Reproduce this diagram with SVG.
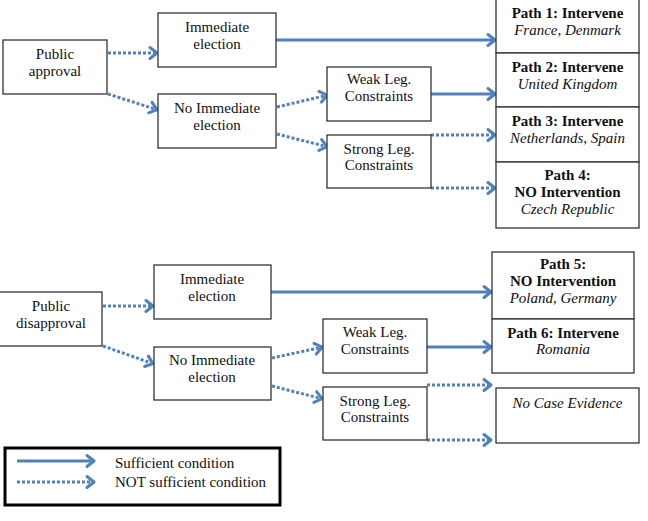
<svg xmlns="http://www.w3.org/2000/svg" width="648" height="521" viewBox="0 0 648 521" font-family="Liberation Serif, Times New Roman, DejaVu Serif, serif">
<style>
.box{fill:#fff;stroke:#333;stroke-width:1.3}
.t{font-size:15px;text-anchor:middle;fill:#111}
.b{font-weight:bold}
.i{font-style:italic}
.s{fill:none;stroke:#4F81BD;stroke-width:3;marker-end:url(#ah)}
.d{fill:none;stroke:#4F81BD;stroke-width:3;stroke-dasharray:3 2;marker-end:url(#ah)}
.lt{font-size:15px;fill:#111}
</style>
<defs>
<marker id="ah" markerUnits="userSpaceOnUse" markerWidth="16" markerHeight="16" refX="11" refY="8" orient="auto">
<path d="M3,2.5 L10,8 L3,13.5" fill="none" stroke="#4F81BD" stroke-width="3" stroke-linejoin="round" stroke-linecap="round"/>
</marker>
</defs>
<rect width="648" height="521" fill="#fff"/>

<g id="connectors">
<line class="d" x1="108" y1="53" x2="158" y2="53"/>
<line class="d" x1="108" y1="94" x2="158" y2="110"/>
<line class="s" x1="276" y1="40" x2="496" y2="40"/>
<line class="d" x1="277" y1="107" x2="328" y2="95"/>
<line class="d" x1="277" y1="134" x2="328" y2="147"/>
<line class="s" x1="431" y1="94" x2="496" y2="94"/>
<line class="d" x1="431" y1="135" x2="496" y2="135"/>
<line class="d" x1="431" y1="188" x2="496" y2="188"/>

<line class="d" x1="103" y1="306" x2="154" y2="306"/>
<line class="d" x1="103" y1="346" x2="154" y2="364"/>
<line class="s" x1="271" y1="292" x2="492" y2="292"/>
<line class="d" x1="272" y1="358" x2="323" y2="347"/>
<line class="d" x1="272" y1="386" x2="323" y2="399"/>
<line class="s" x1="427" y1="347" x2="492" y2="347"/>
<line class="d" x1="427" y1="385" x2="492" y2="385"/>
<line class="d" x1="427" y1="440" x2="492" y2="440"/>
</g>

<g id="public-approval"><rect class="box" x="3" y="40" width="104" height="54"/>
<text class="t" x="55" y="59">Public</text><text class="t" x="55" y="76">approval</text></g>
<g id="imm1"><rect class="box" x="158" y="13" width="118" height="54"/>
<text class="t" x="217" y="32">Immediate</text><text class="t" x="217" y="49">election</text></g>
<g id="noimm1"><rect class="box" x="158" y="94" width="118" height="54"/>
<text class="t" x="217" y="113">No Immediate</text><text class="t" x="217" y="130">election</text></g>
<g id="weak1"><rect class="box" x="327" y="67" width="104" height="54"/>
<text class="t" x="379" y="84">Weak Leg.</text><text class="t" x="379" y="101">Constraints</text></g>
<g id="strong1"><rect class="box" x="327" y="135" width="104" height="53"/>
<text class="t" x="379" y="154">Strong Leg.</text><text class="t" x="379" y="170">Constraints</text></g>
<g id="path1"><rect class="box" x="496" y="-1" width="143" height="54"/>
<text class="t b" x="567.5" y="18">Path 1: Intervene</text><text class="t i" x="567.5" y="35">France, Denmark</text></g>
<g id="path2"><rect class="box" x="496" y="53" width="143" height="54"/>
<text class="t b" x="567.5" y="72">Path 2: Intervene</text><text class="t i" x="567.5" y="89">United Kingdom</text></g>
<g id="path3"><rect class="box" x="496" y="107" width="143" height="55"/>
<text class="t b" x="567.5" y="126">Path 3: Intervene</text><text class="t i" x="567.5" y="143">Netherlands, Spain</text></g>
<g id="path4"><rect class="box" x="496" y="162" width="143" height="66"/>
<text class="t b" x="567.5" y="180">Path 4:</text><text class="t b" x="567.5" y="197">NO Intervention</text><text class="t i" x="567.5" y="214">Czech Republic</text></g>

<g id="public-disapproval"><rect class="box" x="-1" y="292" width="103" height="54"/>
<text class="t" x="51" y="311">Public</text><text class="t" x="51" y="328">disapproval</text></g>
<g id="imm2"><rect class="box" x="154" y="265" width="117" height="54"/>
<text class="t" x="212" y="284">Immediate</text><text class="t" x="212" y="301">election</text></g>
<g id="noimm2"><rect class="box" x="154" y="347" width="117" height="53"/>
<text class="t" x="212" y="365">No Immediate</text><text class="t" x="212" y="382">election</text></g>
<g id="weak2"><rect class="box" x="323" y="319" width="104" height="54"/>
<text class="t" x="375" y="337">Weak Leg.</text><text class="t" x="375" y="354">Constraints</text></g>
<g id="strong2"><rect class="box" x="323" y="387" width="104" height="53"/>
<text class="t" x="375" y="406">Strong Leg.</text><text class="t" x="375" y="422">Constraints</text></g>
<g id="path5"><rect class="box" x="492" y="252" width="142" height="67"/>
<text class="t b" x="563" y="269">Path 5:</text><text class="t b" x="563" y="286">NO Intervention</text><text class="t i" x="563" y="303">Poland, Germany</text></g>
<g id="path6"><rect class="box" x="492" y="319" width="142" height="54"/>
<text class="t b" x="563" y="338">Path 6: Intervene</text><text class="t i" x="563" y="354">Romania</text></g>
<g id="nocase"><rect class="box" x="496" y="388" width="143" height="55"/>
<text class="t i" x="567.5" y="408">No Case Evidence</text></g>

<g id="legend">
<rect x="5" y="448" width="275" height="57" fill="#fff" stroke="#000" stroke-width="3"/>
<line class="s" x1="17" y1="461" x2="95" y2="461"/>
<line class="d" x1="17" y1="482" x2="95" y2="482"/>
<text class="lt" x="115" y="468">Sufficient condition</text>
<text class="lt" x="115" y="487">NOT sufficient condition</text>
</g>
</svg>
